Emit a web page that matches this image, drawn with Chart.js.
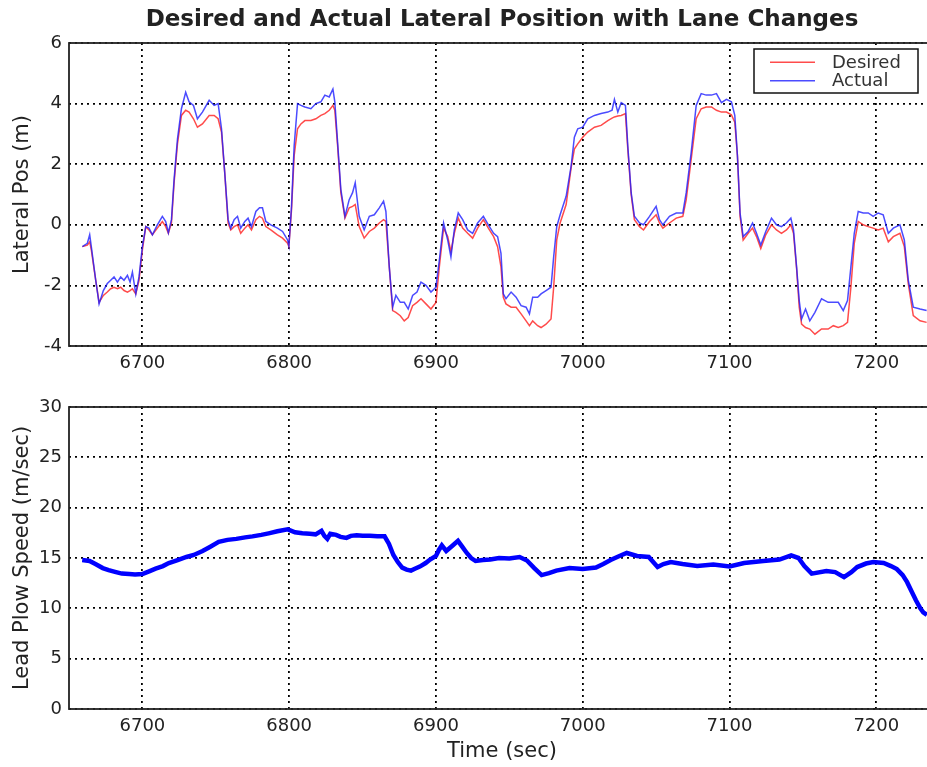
<!DOCTYPE html>
<html>
<head>
<meta charset="utf-8">
<title>Desired and Actual Lateral Position with Lane Changes</title>
<script src="https://cdn.jsdelivr.net/npm/chart.js@4.4.1/dist/chart.umd.min.js"></script>
<style>
    html, body { margin: 0; padding: 0; background: #fff; overflow: hidden; width: 927px; height: 767px; }
    canvas { position: absolute; left: 0; }
    #latChart { top: 0; }
    #speedChart { top: 380px; }
</style>
</head>
<body>
<canvas id="latChart" width="935" height="375"></canvas>
<canvas id="speedChart" width="935" height="387"></canvas>
<script>
// Lateral position (m)
const latTime = [
    6659.1, 6662.5, 6664.1, 6665.2, 6668.2, 6670.5, 6673.4, 6676.1, 6678.4, 6680.7,
    6683, 6685.2, 6687.5, 6689.8, 6691.6, 6693.2, 6695.5, 6697.7, 6700, 6702.3,
    6704.5, 6706.8, 6710.2, 6713.6, 6715.9, 6717.7, 6719.8, 6721.6, 6723.9, 6726.6,
    6729.5, 6731.8, 6734.8, 6737.5, 6740.9, 6745.5, 6748.9, 6751.6, 6753.9, 6756.1,
    6758.4, 6760.2, 6762.5, 6764.8, 6767, 6769.8, 6772, 6774.3, 6777.3, 6779.8,
    6781.8, 6784.1, 6787.5, 6792, 6795.5,
    6798.9, 6799.8, 6801.6, 6803.4, 6805.7, 6808, 6810.7, 6814.8, 6818.2, 6821.6,
    6824.3, 6827.3, 6829.8, 6831.1, 6833, 6835.2, 6838, 6840.9, 6843.2, 6845,
    6847.7, 6851.1, 6854.6, 6858, 6861.4, 6864.3, 6865.9, 6868.2, 6870.5, 6872.7,
    6875.7, 6878.4, 6881.1, 6884.1, 6887.1, 6889.8, 6893.2, 6896.6, 6900, 6902.3,
    6905.2, 6908, 6910.2, 6912.5, 6915.2, 6918.2, 6921.6, 6925, 6928.4, 6932.3,
    6935.7, 6939.3, 6942,
    6944.3, 6945.9, 6947.7, 6951.2, 6954.6, 6958, 6961.4, 6963.7, 6965.9, 6969.3,
    6971.6, 6975, 6978.4, 6980.2, 6982.3, 6984.6, 6988.7, 6992.1, 6994.3, 6996.6,
    7000, 7003.4, 7008, 7012.5, 7017.1, 7020, 7021.6, 7023.9, 7026.2, 7029.1,
    7030.7, 7033, 7035.2, 7038.7, 7041.4, 7045.5, 7050, 7052.3, 7054.6, 7059.1,
    7063.7, 7068.2, 7070.5, 7073.9, 7077.3, 7080.7, 7084.1,
    7087.7, 7091.1, 7094.5, 7097.9, 7101.3, 7103.6, 7105.4, 7107.2, 7109.3, 7112.7,
    7115.7, 7118.4, 7121.3, 7124.7, 7128.6, 7132, 7135.4, 7138.8, 7141.8, 7143.6,
    7145.7, 7147.5, 7149.1, 7151.8, 7154.7, 7158.2, 7162.7, 7167.2, 7170.7, 7174.1,
    7177.5, 7180.4, 7182.7, 7185, 7187.7, 7191.1, 7194.5, 7197.9, 7201.3, 7204.7,
    7208.2, 7211.6, 7216.1, 7219.1, 7221.8, 7225.2, 7229.8, 7234.3
];
const latDesired = [
    -0.72, -0.67, -0.56, -0.83, -1.83, -2.56, -2.33, -2.22, -2.11, -2.06,
    -2.11, -2.06, -2.17, -2.22, -2.17, -2.11, -2.28, -1.83, -0.83, -0.06,
    -0.17, -0.33, -0.11, 0.11, -0.06, -0.28, 0.06, 1.39, 2.67, 3.61,
    3.78, 3.72, 3.5, 3.22, 3.33, 3.61, 3.61, 3.5, 3.06, 1.72,
    0.06, -0.17, -0.06, 0, -0.28, -0.11, 0, -0.17, 0.17, 0.28,
    0.22, -0.06, -0.17, -0.33, -0.44,
    -0.61, -0.72, 0.5, 2.28, 3.17, 3.33, 3.44, 3.44, 3.5, 3.61,
    3.67, 3.78, 3.94, 3.78, 2.61, 1.06, 0.22, 0.56, 0.61, 0.67,
    -0.06, -0.44, -0.22, -0.11, 0.06, 0.17, 0.11, -1.39, -2.83, -2.89,
    -3.0, -3.17, -3.06, -2.67, -2.56, -2.44, -2.61, -2.78, -2.56, -1.39,
    -0.11, -0.39, -0.89, -0.28, 0.22, -0.11, -0.28, -0.44, -0.11, 0.17,
    -0.11, -0.39, -0.72,
    -1.39, -2.39, -2.61, -2.72, -2.72, -2.94, -3.17, -3.33, -3.17, -3.33,
    -3.39, -3.28, -3.11, -2.06, -0.5, 0.06, 0.67, 1.89, 2.5, 2.67,
    2.89, 3.06, 3.22, 3.28, 3.44, 3.52, 3.56, 3.59, 3.61, 3.67,
    2.5, 1.0, 0.17, -0.06, -0.17, 0.11, 0.33, 0.06, -0.11, 0.06,
    0.22, 0.28, 0.83, 2.17, 3.5, 3.83, 3.89,
    3.89, 3.78, 3.72, 3.72, 3.63, 3.39, 2.28, 0.28, -0.5, -0.28,
    -0.11, -0.39, -0.78, -0.33, 0, -0.17, -0.28, -0.17, 0, -0.28,
    -1.44, -2.72, -3.28, -3.39, -3.44, -3.61, -3.44, -3.44, -3.33, -3.39,
    -3.33, -3.22, -2.06, -0.61, 0.11, 0, -0.06, -0.11, -0.17, -0.11,
    -0.56, -0.39, -0.28, -0.72, -1.94, -3.0, -3.17, -3.22
];
const latActual = [
    -0.72, -0.61, -0.33, -0.72, -1.83, -2.61, -2.17, -1.94, -1.83, -1.72,
    -1.89, -1.72, -1.83, -1.67, -1.89, -1.56, -2.28, -1.72, -0.72, -0.06,
    -0.11, -0.33, 0, 0.28, 0.11, -0.26, 0.17, 1.5, 2.83, 3.83,
    4.37, 4.06, 3.94, 3.5, 3.72, 4.11, 3.94, 4.0, 3.17, 1.72,
    0.17, -0.11, 0.17, 0.28, -0.11, 0.11, 0.22, -0.06, 0.44, 0.56,
    0.56, 0.11, 0, -0.11, -0.22,
    -0.5, -0.7, 0.61, 2.61, 4.0, 3.94, 3.89, 3.83, 4.0, 4.06,
    4.28, 4.22, 4.48, 4.06, 2.72, 1.17, 0.28, 0.83, 1.06, 1.39,
    0.28, -0.17, 0.28, 0.33, 0.56, 0.78, 0.44, -1.39, -2.72, -2.33,
    -2.56, -2.56, -2.78, -2.33, -2.22, -1.89, -2.0, -2.22, -2.06, -1.17,
    0.06, -0.5, -1.06, -0.17, 0.39, 0.17, -0.17, -0.28, 0.06, 0.28,
    0, -0.28, -0.39,
    -0.94, -2.28, -2.44, -2.22, -2.39, -2.67, -2.72, -2.94, -2.39, -2.39,
    -2.28, -2.17, -2.06, -1.06, -0.06, 0.33, 0.94, 1.94, 2.89, 3.17,
    3.22, 3.5, 3.61, 3.67, 3.72, 3.78, 4.14, 3.72, 4.03, 3.94,
    2.61, 1.06, 0.28, 0.06, 0, 0.28, 0.61, 0.17, 0, 0.28,
    0.39, 0.39, 1.06, 2.39, 3.94, 4.33, 4.28,
    4.28, 4.33, 4.03, 4.14, 4.06, 3.61, 2.28, 0.39, -0.39, -0.22,
    0.06, -0.28, -0.67, -0.22, 0.22, 0, -0.06, 0.06, 0.22, -0.17,
    -1.39, -2.5, -3.11, -2.78, -3.17, -2.89, -2.44, -2.56, -2.56, -2.56,
    -2.83, -2.5, -1.39, -0.28, 0.44, 0.39, 0.39, 0.28, 0.39, 0.33,
    -0.28, -0.11, 0, -0.5, -1.83, -2.72, -2.78, -2.83
];

// Lead plow speed (m/sec)
const speedTime = [
    6659, 6664, 6668, 6673, 6677, 6682, 6686, 6691, 6695, 6700,
    6705, 6709, 6714, 6718, 6724, 6730, 6735, 6741, 6746, 6752,
    6758, 6764, 6770, 6775, 6781, 6786, 6792, 6799, 6804, 6809,
    6814, 6818, 6822, 6824, 6826, 6828, 6832, 6835, 6839, 6842,
    6846, 6850, 6855, 6860, 6865, 6868, 6871, 6874, 6877, 6880,
    6883, 6886, 6889, 6893, 6896, 6900, 6902, 6904, 6907, 6911,
    6915, 6918, 6921, 6924, 6927, 6932, 6937, 6943, 6950, 6957,
    6962, 6967, 6972, 6977, 6982, 6991, 7000, 7009, 7014, 7019,
    7025, 7030, 7037, 7045, 7048, 7051, 7055, 7060, 7068, 7078,
    7089, 7100, 7110, 7123, 7134, 7142, 7147, 7151, 7156, 7166,
    7172, 7178, 7183, 7187, 7193, 7198, 7205, 7210, 7214, 7218,
    7221, 7224, 7227, 7230, 7232, 7234.5
];
const speedValue = [
    14.8, 14.7, 14.4, 14.0, 13.8, 13.6, 13.45, 13.4, 13.35, 13.4,
    13.7, 13.95, 14.2, 14.5, 14.8, 15.1, 15.3, 15.7, 16.1, 16.6,
    16.8, 16.9, 17.05, 17.15, 17.3, 17.45, 17.65, 17.85, 17.55, 17.45,
    17.4, 17.35, 17.7, 17.2, 16.9, 17.4, 17.3, 17.1, 17.0, 17.2,
    17.25, 17.2, 17.2, 17.15, 17.15, 16.4, 15.3, 14.6, 14.05, 13.85,
    13.75, 13.95, 14.15, 14.5, 14.85, 15.2, 15.8, 16.25, 15.7, 16.2,
    16.7, 16.1, 15.5, 15.0, 14.7, 14.8, 14.85, 15.0, 14.95, 15.1,
    14.75, 14.0, 13.3, 13.5, 13.75, 14.0, 13.9, 14.05, 14.4, 14.8,
    15.2, 15.5, 15.2, 15.1, 14.6, 14.1, 14.4, 14.6, 14.4, 14.2,
    14.35, 14.15, 14.5, 14.7, 14.85, 15.25, 15.0, 14.2, 13.45, 13.7,
    13.6, 13.1, 13.6, 14.1, 14.45, 14.6, 14.5, 14.2, 13.9, 13.3,
    12.6, 11.7, 10.8, 10.0, 9.6, 9.35
];

const timeTicks = [6700, 6800, 6900, 7000, 7100, 7200];
const latTicks = [-4, -2, 0, 2, 4, 6];
const speedTicks = [0, 5, 10, 15, 20, 25, 30];

const FONT = 'DejaVu Sans, Verdana, sans-serif';
const TEXT_COLOR = '#222';

const toPoints = (xs, ys) => xs.map((x, i) => ({ x: x, y: ys[i] }));

// black box around the plot area, like matplotlib's frame
const framePlugin = {
    id: 'frame',
    afterDatasetsDraw(chart) {
        const { ctx, chartArea: a } = chart;
        ctx.save();
        ctx.strokeStyle = '#222';
        ctx.lineWidth = 1.8;
        ctx.strokeRect(a.left, a.top, a.right - a.left, a.bottom - a.top);
        ctx.restore();
    }
};

// title centred over the plot area, legend box in the upper right corner
const latDecorPlugin = {
    id: 'latDecor',
    afterDraw(chart) {
        const { ctx, chartArea: a } = chart;
        ctx.save();
        ctx.fillStyle = TEXT_COLOR;
        ctx.font = 'bold 23px ' + FONT;
        ctx.textAlign = 'center';
        ctx.textBaseline = 'middle';
        ctx.fillText('Desired and Actual Lateral Position with Lane Changes', (a.left + a.right) / 2, 20);

        const boxW = 164, boxH = 44;
        const boxL = a.right - 17 - boxW;
        const boxT = a.top + 6;
        ctx.fillStyle = '#fff';
        ctx.fillRect(boxL, boxT, boxW, boxH);
        ctx.strokeStyle = '#111';
        ctx.lineWidth = 1.5;
        ctx.strokeRect(boxL, boxT, boxW, boxH);

        ctx.font = '18px ' + FONT;
        ctx.textAlign = 'left';
        chart.data.datasets.forEach((ds, i) => {
            const y = boxT + 13.3 + i * 18.4;
            ctx.strokeStyle = ds.borderColor;
            ctx.lineWidth = ds.borderWidth;
            ctx.beginPath();
            ctx.moveTo(boxL + 16, y);
            ctx.lineTo(boxL + 61, y);
            ctx.stroke();
            ctx.fillStyle = '#333';
            ctx.fillText(ds.label, boxL + 78, y + 1);
        });
        ctx.restore();
    }
};

function axisStyle(ticks) {
    return {
        afterBuildTicks: (scale) => { scale.ticks = ticks.map(v => ({ value: v })); },
        ticks: {
            color: TEXT_COLOR,
            font: { family: FONT, size: 18 },
            padding: 7,
            callback: (value) => String(value)
        },
        grid: { color: '#000', lineWidth: 1.8, drawTicks: false },
        border: { display: false, dash: [2, 4] }
    };
}

function initLatChart() {
    const ctx = document.getElementById('latChart').getContext('2d');
    const xAxis = axisStyle(timeTicks);
    xAxis.afterFit = (scale) => { scale.height = 29; };
    const yAxis = axisStyle(latTicks);
    yAxis.afterFit = (scale) => { scale.width = 69; };
    yAxis.title = { display: true, text: 'Lateral Pos (m)', color: TEXT_COLOR, font: { family: FONT, size: 21 }, padding: { top: 10 } };

    new Chart(ctx, {
        type: 'line',
        data: {
            datasets: [
                { label: 'Desired', data: toPoints(latTime, latDesired), borderColor: 'rgba(255, 30, 30, 0.8)', borderWidth: 1.5, order: 1 },
                { label: 'Actual', data: toPoints(latTime, latActual), borderColor: 'rgba(30, 30, 255, 0.8)', borderWidth: 1.5, order: 0 }
            ]
        },
        options: {
            responsive: false,
            animation: false,
            layout: { padding: { top: 43, right: 0, bottom: 0, left: 0 } },
            elements: { point: { radius: 0 }, line: { tension: 0 } },
            scales: {
                x: Object.assign({ type: 'linear', min: 6650, max: 7240 }, xAxis),
                y: Object.assign({ type: 'linear', min: -4, max: 6 }, yAxis)
            },
            plugins: { legend: { display: false }, tooltip: { enabled: false } }
        },
        plugins: [framePlugin, latDecorPlugin]
    });
}

function initSpeedChart() {
    const ctx = document.getElementById('speedChart').getContext('2d');
    const xAxis = axisStyle(timeTicks);
    xAxis.afterFit = (scale) => { scale.height = 58; };
    xAxis.title = { display: true, text: 'Time (sec)', color: TEXT_COLOR, font: { family: FONT, size: 21 }, padding: { top: 0, bottom: 3 } };
    const yAxis = axisStyle(speedTicks);
    yAxis.afterFit = (scale) => { scale.width = 69; };
    yAxis.title = { display: true, text: 'Lead Plow Speed (m/sec)', color: TEXT_COLOR, font: { family: FONT, size: 21 }, padding: { top: 10 } };

    new Chart(ctx, {
        type: 'line',
        data: {
            datasets: [
                { label: 'Lead Plow Speed', data: toPoints(speedTime, speedValue), borderColor: '#0000ff', borderWidth: 4.5 }
            ]
        },
        options: {
            responsive: false,
            animation: false,
            layout: { padding: { top: 27, right: 0, bottom: 0, left: 0 } },
            elements: { point: { radius: 0 }, line: { tension: 0 } },
            scales: {
                x: Object.assign({ type: 'linear', min: 6650, max: 7240 }, xAxis),
                y: Object.assign({ type: 'linear', min: 0, max: 30 }, yAxis)
            },
            plugins: { legend: { display: false }, tooltip: { enabled: false } }
        },
        plugins: [framePlugin]
    });
}

document.addEventListener('DOMContentLoaded', () => {
    initLatChart();
    initSpeedChart();
});
</script>
</body>
</html>
